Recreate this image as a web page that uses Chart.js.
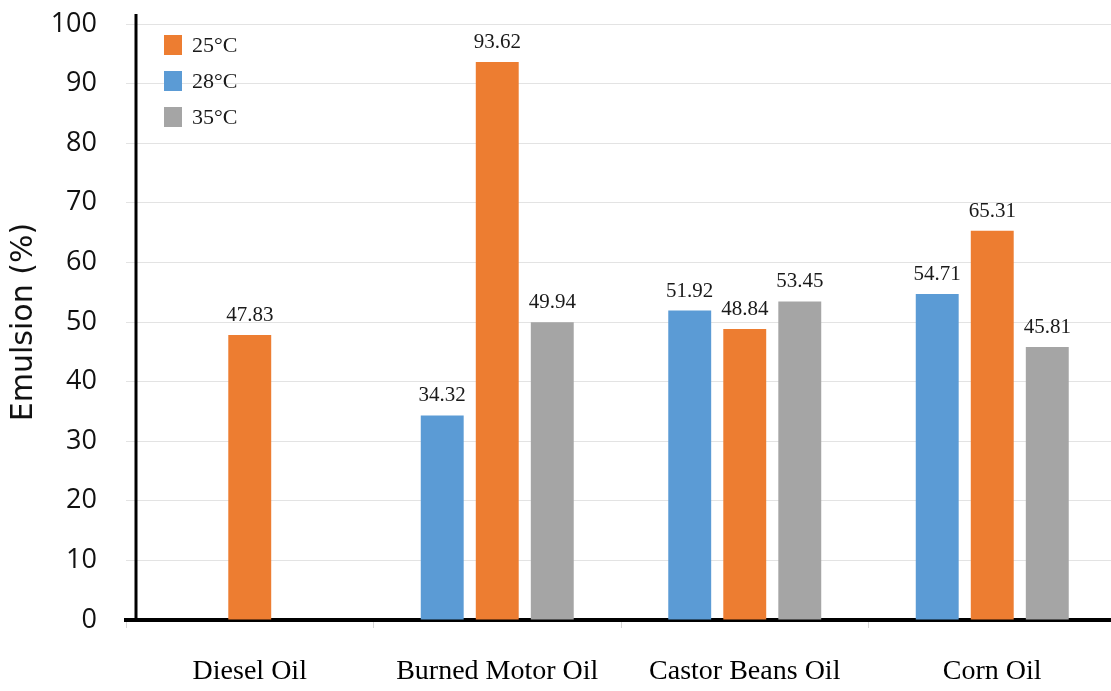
<!DOCTYPE html>
<html>
<head>
<meta charset="utf-8">
<script src="https://cdn.jsdelivr.net/npm/chart.js@4.4.1/dist/chart.umd.min.js"></script>
<style>
  html, body { margin: 0; padding: 0; background: #fff; overflow: hidden; }
  #wrap { width: 1118px; height: 691px; }
</style>
</head>
<body>
<div id="wrap"><canvas id="emulsion_chart" width="1118" height="691"></canvas></div>
<script>
// data
var categories = ["Diesel Oil", "Burned Motor Oil", "Castor Beans Oil", "Corn Oil"];
var temp28 = [null, 34.32, 51.92, 54.71];
var temp25 = [47.83, 93.62, 48.84, 65.31];
var temp35 = [null, 49.94, 53.45, 45.81];
var yTicks = [0, 10, 20, 30, 40, 50, 60, 70, 80, 90, 100];

var blue = '#5B9BD5';
var orange = '#ED7D31';
var gray = '#A5A5A5';

// value labels above each bar
var valueLabels = {
    id: 'valueLabels',
    afterDatasetsDraw: function (chart) {
        var ctx = chart.ctx;
        ctx.save();
        ctx.font = '21px "Liberation Serif", "Times New Roman", serif';
        ctx.fillStyle = '#1a1a1a';
        ctx.textAlign = 'center';
        ctx.textBaseline = 'alphabetic';
        chart.data.datasets.forEach(function (ds, i) {
            var meta = chart.getDatasetMeta(i);
            meta.data.forEach(function (bar, j) {
                var v = ds.data[j];
                if (v === null || v === undefined) return;
                ctx.fillText(v.toFixed(2), bar.x, bar.y - 14);
            });
        });
        ctx.restore();
    }
};

// y axis line sits a little right of where the grid lines start
var yAxisLine = {
    id: 'yAxisLine',
    afterDraw: function (chart) {
        var ctx = chart.ctx;
        var a = chart.chartArea;
        ctx.save();
        ctx.strokeStyle = '#000';
        ctx.lineWidth = 3;
        ctx.beginPath();
        ctx.moveTo(a.left + 10, a.top - 10);
        ctx.lineTo(a.left + 10, a.bottom);
        ctx.stroke();
        ctx.restore();
    }
};

// vertical legend in the top-left corner of the plot
var cornerLegend = {
    id: 'cornerLegend',
    afterDraw: function (chart) {
        var ctx = chart.ctx;
        var a = chart.chartArea;
        var items = chart.data.datasets.map(function (ds) {
            return { label: ds.label, color: ds.backgroundColor };
        }).sort(function (p, q) { return p.label < q.label ? -1 : 1; });
        ctx.save();
        ctx.font = '22px "Liberation Serif", "Times New Roman", serif';
        ctx.textBaseline = 'middle';
        ctx.textAlign = 'left';
        items.forEach(function (it, k) {
            var cy = a.top + 21 + k * 36;
            ctx.fillStyle = it.color;
            ctx.fillRect(a.left + 38, cy - 10, 18, 20);
            ctx.fillStyle = '#1a1a1a';
            ctx.fillText(it.label, a.left + 66, cy + 1);
        });
        ctx.restore();
    }
};

var ctxBar = document.getElementById('emulsion_chart').getContext('2d');
var chart = new Chart(ctxBar, {
    type: 'bar',
    data: {
        labels: categories,
        datasets: [
            { label: '28\u00B0C', data: temp28, backgroundColor: blue },
            { label: '25\u00B0C', data: temp25, backgroundColor: orange },
            { label: '35\u00B0C', data: temp35, backgroundColor: gray }
        ]
    },
    options: {
        responsive: false,
        animation: false,
        categoryPercentage: 0.667,
        barPercentage: 0.78,
        layout: { padding: { top: 24, right: 2, left: 0, bottom: 0 } },
        plugins: {
            legend: { display: false },
            tooltip: { enabled: false }
        },
        scales: {
            x: {
                grid: {
                    display: true,
                    drawOnChartArea: false,
                    drawTicks: true,
                    tickLength: 8,
                    color: '#d6d6d6'
                },
                border: { display: true, color: '#000', width: 4 },
                ticks: {
                    color: '#000',
                    padding: 27,
                    font: { family: '"Liberation Serif", "Times New Roman", serif', size: 28 }
                },
                afterFit: function (scale) { scale.height = 71; }
            },
            y: {
                min: 0,
                max: 100,
                afterBuildTicks: function (scale) {
                    scale.ticks = yTicks.map(function (v) { return { value: v }; });
                },
                grid: { color: '#e3e3e3', lineWidth: 1, drawTicks: false },
                border: { display: false },
                ticks: {
                    color: '#111',
                    padding: 29,
                    font: { family: '"Open Sans", "Noto Sans", sans-serif', size: 27 }
                },
                title: {
                    display: true,
                    text: 'Emulsion (%)',
                    color: '#111',
                    padding: { top: 6, bottom: 0 },
                    font: { family: '"DejaVu Sans", Verdana, sans-serif', size: 30 }
                },
                afterFit: function (scale) {
                    scale.width = 126;
                    scale.paddingTop = 0;
                    scale.paddingBottom = 0;
                }
            }
        }
    },
    plugins: [valueLabels, yAxisLine, cornerLegend]
});
</script>
</body>
</html>
